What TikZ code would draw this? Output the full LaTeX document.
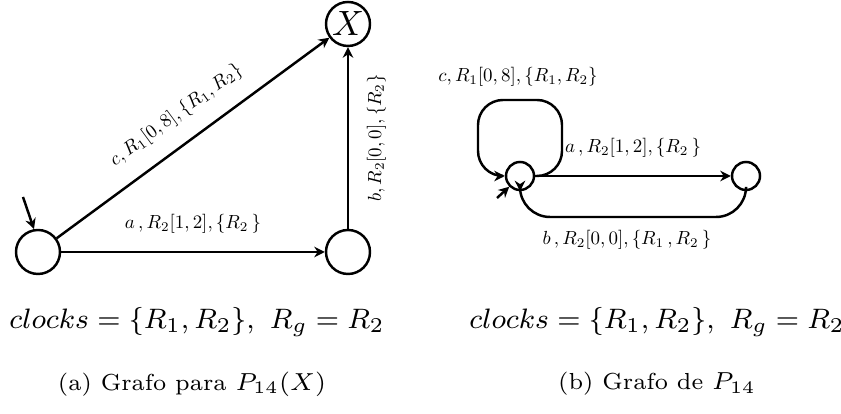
\documentclass[tikz,border=0pt]{standalone}
\usepackage{amsmath,amssymb}
\usepackage{graphicx}
\usepackage{tikz}
\usetikzlibrary{arrows.meta,calc}

\newcommand{\etiq}[1]{\scalebox{0.54}{$#1$}}

\tikzset{
  state/.style={draw, circle, line width=0.7pt, inner sep=0pt},
  bigstate/.style={state, minimum size=0.44cm},
  smallstate/.style={state, minimum size=0.28cm},
  trans/.style={-{Stealth[length=3pt,width=3pt]}, line width=0.7pt},
  lbl/.style={font=\normalsize, inner sep=1pt},
  clk/.style={font=\fontsize{8.2}{10}\selectfont},
  captext/.style={font=\fontsize{6.6}{8}\selectfont},
}

\begin{document}
\begin{tikzpicture}
\useasboundingbox (0,0) rectangle (8.41,4.14);
% grafo (a)
\node[bigstate] (q0) at (0.38,1.62) {};
\node[bigstate] (q1) at (3.48,1.62) {};
\node[bigstate] (qX) at (3.48,3.90) {$X$};
\coordinate (ini1) at (0.23,2.17);
\draw[trans] (ini1) -- (q0.100);
\draw[trans] (q0) -- node[lbl, above=4pt] {\etiq{a\,,R_2[1,2],\{R_2\,\}}} (q1);
\draw[trans] (q0) -- node[lbl, sloped, above=4pt] {\etiq{c,R_1[0,8],\{R_1,R_2\}}} (qX);
\draw[trans] (q1) -- node[lbl, sloped, below=4pt] {\etiq{b,R_2[0,0],\{R_2\}}} (qX);
% grafo (b)
\node[smallstate] (p0) at (5.20,2.38) {};
\node[smallstate] (p1) at (7.46,2.38) {};
\coordinate (ini2) at (4.97,2.16);
\coordinate (loopNE) at (5.62,3.14);
\coordinate (loopSW) at (4.78,2.38);
\coordinate (backS) at (5.20,1.97);
\draw[trans] (ini2) -- (p0.225);
\draw[trans, rounded corners=0.25cm] (p0.east) -| (loopNE) -| (loopSW) -- (p0.west);
\draw[trans] (p0) -- node[lbl, above=4pt] {\etiq{a\,,R_2[1,2],\{R_2\,\}}} (p1);
\draw[trans, rounded corners=0.3cm] (p1.south) |- (backS) -- (p0.south);
\node[lbl] (lc) at (5.18,3.37) {\etiq{c,R_1[0,8],\{R_1,R_2\}}};
\node[lbl] (lb) at (6.27,1.74) {\etiq{b\,,R_2[0,0],\{R_1\,,R_2\,\}}};
% textos
\node[clk] (ck1) at (1.97,0.92) {$clocks=\{R_1,R_2\},\ R_g=R_2$};
\node[clk] (ck2) at (6.57,0.92) {$clocks=\{R_1,R_2\},\ R_g=R_2$};
\node[captext] (capA) at (1.92,0.30) {(a) Grafo para $P_{14}(X)$};
\node[captext] (capB) at (6.57,0.30) {(b) Grafo de $P_{14}$};
\end{tikzpicture}
\end{document}
